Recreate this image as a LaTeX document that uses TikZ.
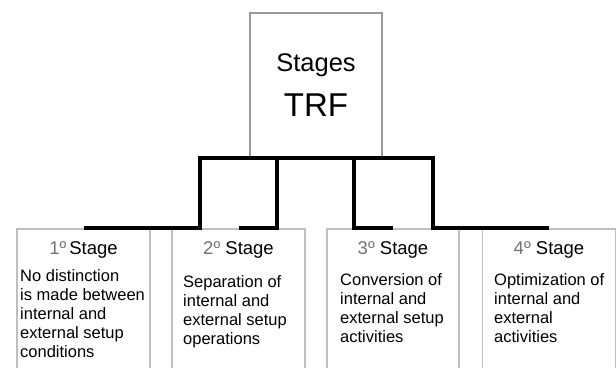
\documentclass[tikz,border=0pt]{standalone}
\usepackage{fontspec}
\setmainfont{Liberation Sans}

\begin{document}
\begin{tikzpicture}[x=1pt,y=-1pt,
   stagebox/.style={draw=black!25,line width=1.6pt,minimum width=133pt,minimum height=160pt,anchor=north,inner sep=0pt},
   title/.style={anchor=base,inner sep=0pt,font=\fontsize{18.5}{22}\selectfont},
   body/.style={anchor=north west,align=left,inner sep=0pt,font=\fontsize{16.5}{19}\selectfont},
   link/.style={line width=3.6pt}]
   \clip (0,0) rectangle (616,367);
   % top box
   \node[draw=black!40,line width=1.8pt,minimum width=132pt,minimum height=144pt,anchor=north] (trf) at (316,12) {};
   \node (stages) at (316,65.5) {\fontsize{25.5}{30}\selectfont Stages};
   \node (trfname) at (316,105) {\fontsize{33}{38}\selectfont TRF};
   % stage boxes
   \node[stagebox] (s1) at (83.5,228) {};
   \node[stagebox] (s2) at (238.5,228) {};
   \node[stagebox,minimum width=132pt] (s3) at (393,228) {};
   \node[stagebox] (s4) at (549,228) {};
   \node[title] (t1) at (83.5,254.5) {\textcolor{black!55}{1º}\,Stage};
   \node[title] (t2) at (238.5,254.5) {\textcolor{black!55}{2º} Stage};
   \node[title] (t3) at (393,254.5) {\textcolor{black!55}{3º} Stage};
   \node[title] (t4) at (549,254.5) {\textcolor{black!55}{4º} Stage};
   \node[body] (d1) at (20,269.5) {No distinction\\is made between\\internal and\\external setup\\conditions};
   \node[body] (d2) at (183,275) {Separation of\\internal and\\external setup\\operations};
   \node[body] (d3) at (340,273) {Conversion of\\internal and\\external setup\\activities};
   \node[body] (d4) at (494,273) {Optimization of\\internal and\\external\\activities};
   % connectors
   \coordinate (k1) at (200,190);
   \coordinate (k2) at (277,190);
   \coordinate (k3) at (354,190);
   \coordinate (k4) at (433,190);
   \draw[link] (trf.south) -| (k1) |- (s1.north);
   \draw[link] (trf.south) -| (k2) |- (s2.north);
   \draw[link] (trf.south) -| (k3) |- (s3.north);
   \draw[link] (trf.south) -| (k4) |- (s4.north);
\end{tikzpicture}
\end{document}
